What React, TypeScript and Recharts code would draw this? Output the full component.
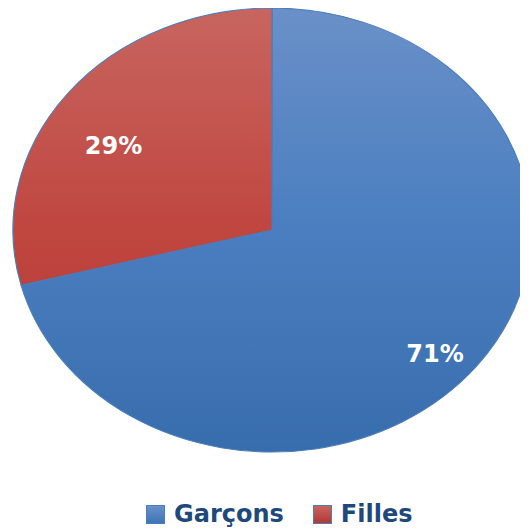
import React from "react";
import { PieChart, Pie, Cell, Legend } from "recharts";

const categories = ["Garçons", "Filles"];
const values = [71, 29];

const data = categories.map((name, i) => ({ name, value: values[i] }));

const W = 520;
const H = 522;
const CX = 264;
const CY = 222;
const R = 222;
const SX = 1.167; // horizontal stretch of the ellipse

const gradIds = ["gradBlue", "gradRed"];
const legendBg = [
  "linear-gradient(#6A90C8, #3E74B6)",
  "linear-gradient(#C8655F, #B43833)",
];
// label placement tweaks (radius fraction, angle offset in degrees)
const labelRadius = [0.84, 0.72];
const labelAngleOffset = [-3.7, 6];

const RADIAN = Math.PI / 180;

const renderLabel = (props: any) => {
  const { cx, cy, midAngle, outerRadius, percent, index } = props;
  const a = (midAngle + labelAngleOffset[index]) * RADIAN;
  const r = outerRadius * labelRadius[index];
  const x = cx + r * Math.cos(a);
  const y = cy - r * Math.sin(a);
  return (
    <text
      x={0}
      y={0}
      transform={`translate(${x} ${y}) scale(${1 / SX} 1)`}
      fill="#FFFFFF"
      textAnchor="middle"
      dominantBaseline="central"
      style={{ fontFamily: "DejaVu Sans", fontWeight: 700, fontSize: 24 }}
    >
      {`${Math.round(percent * 100)}%`}
    </text>
  );
};

const renderLegend = () => {
  return (
    <div
      style={{
        transform: `scaleX(${1 / SX})`,
        transformOrigin: `${CX}px 0px`,
        width: W,
        display: "flex",
        alignItems: "center",
        paddingLeft: 138,
        boxSizing: "border-box",
        height: 30,
        fontFamily: "DejaVu Sans",
        fontWeight: 700,
        fontSize: 24,
        color: "#1F497D",
        whiteSpace: "nowrap",
      }}
    >
      {categories.map((name, i) => (
        <div
          key={name}
          style={{ display: "flex", alignItems: "center", marginRight: i === 0 ? 29 : 0 }}
        >
          <span
            style={{
              display: "inline-block",
              width: 17,
              height: 17,
              background: legendBg[i],
              border: "1px solid #4A7EBB",
              marginRight: 9,
            }}
          />
          <span>{name}</span>
        </div>
      ))}
    </div>
  );
};

export default function App() {
  return (
    <div style={{ width: W, height: H, overflow: "hidden" }}>
      <div style={{ width: W, height: H, transform: `scaleX(${SX})`, transformOrigin: `${CX}px ${CY}px` }}>
        <PieChart width={W} height={H} margin={{ top: 0, right: 0, bottom: 0, left: 0 }}>
          <defs>
            <linearGradient id="gradBlue" gradientUnits="userSpaceOnUse" x1="0" y1={CY - R} x2="0" y2={CY + R}>
              <stop offset="0%" stopColor="#6A90C8" />
              <stop offset="50%" stopColor="#4A7EC0" />
              <stop offset="100%" stopColor="#386DAD" />
            </linearGradient>
            <linearGradient id="gradRed" gradientUnits="userSpaceOnUse" x1="0" y1={CY - R} x2="0" y2={CY + R}>
              <stop offset="0%" stopColor="#C8655F" />
              <stop offset="50%" stopColor="#C04640" />
              <stop offset="100%" stopColor="#B03532" />
            </linearGradient>
          </defs>
          <Pie
            data={data}
            dataKey="value"
            nameKey="name"
            cx={CX}
            cy={CY}
            outerRadius={R}
            startAngle={90}
            endAngle={-270}
            stroke="#4A7EBB"
            strokeWidth={1}
            label={renderLabel}
            labelLine={false}
            isAnimationActive={false}
          >
            {data.map((d, i) => (
              <Cell key={d.name} fill={`url(#${gradIds[i]})`} />
            ))}
          </Pie>
          <Legend
            layout="horizontal"
            verticalAlign="middle"
            align="center"
            content={renderLegend}
            wrapperStyle={{ top: 491, left: 0, width: W }}
          />
        </PieChart>
      </div>
    </div>
  );
}
